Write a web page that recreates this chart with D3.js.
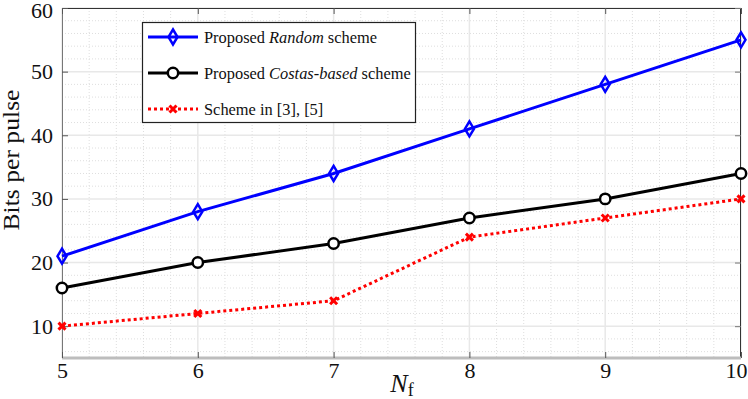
<!DOCTYPE html>
<html><head><meta charset="utf-8">
<script src="https://cdn.jsdelivr.net/npm/d3@7"></script>
<style>body{margin:0;background:#fff;} svg{display:block;} svg text{font-family:"Liberation Serif","Times New Roman",serif !important;}</style>
</head><body>
<svg id="c" width="748" height="399"></svg>
<script>
const nf = [5, 6, 7, 8, 9, 10];
const randomScheme = [21, 28, 34, 41, 48, 55];
const costasScheme = [16, 20, 23, 27, 30, 34];
const refScheme = [10, 12, 14, 24, 27, 30];
const xTicks = [5, 6, 7, 8, 9, 10];
const yTicks = [10, 20, 30, 40, 50, 60];
const seriesNames = ["Proposed ", "Proposed ", "Scheme in [3], [5]"];

const svg = d3.select("#c");
const L = 62, R = 741, T = 8, B = 358;
const x = d3.scaleLinear().domain([5, 10]).range([L, R]);
const y = d3.scaleLinear().domain([5, 60]).range([B, T]);
const SERIF = "'Liberation Serif', 'Times New Roman', serif";

const g = svg.append("g");
const xMinor = d3.range(5, 10.001, 0.2).filter(v => Math.abs(v - Math.round(v)) > 1e-6);
const yMinor = d3.range(6, 60, 2).filter(v => v % 10 !== 0);
g.selectAll(".xm").data(xMinor).join("line")
  .attr("x1", d => x(d)).attr("x2", d => x(d)).attr("y1", T).attr("y2", B)
  .attr("stroke", "#dedede").attr("stroke-width", 1).attr("stroke-dasharray", "1,2");
g.selectAll(".ym").data(yMinor).join("line")
  .attr("x1", L).attr("x2", R).attr("y1", d => y(d)).attr("y2", d => y(d))
  .attr("stroke", "#dedede").attr("stroke-width", 1).attr("stroke-dasharray", "1,2");
g.selectAll(".xM").data(xTicks).join("line")
  .attr("x1", d => x(d)).attr("x2", d => x(d)).attr("y1", T).attr("y2", B)
  .attr("stroke", "#e8e8e8").attr("stroke-width", 1.5);
g.selectAll(".yM").data(yTicks).join("line")
  .attr("x1", L).attr("x2", R).attr("y1", d => y(d)).attr("y2", d => y(d))
  .attr("stroke", "#e8e8e8").attr("stroke-width", 1.5);

svg.append("line").attr("x1", L).attr("x2", R).attr("y1", T + 0.5).attr("y2", T + 0.5).attr("stroke", "#333").attr("stroke-width", 1);
svg.append("line").attr("x1", R - 0.5).attr("x2", R - 0.5).attr("y1", T).attr("y2", B).attr("stroke", "#333").attr("stroke-width", 1);
svg.append("line").attr("x1", L + 0.5).attr("x2", L + 0.5).attr("y1", T).attr("y2", B).attr("stroke", "#777").attr("stroke-width", 1);
svg.append("line").attr("x1", L).attr("x2", R).attr("y1", B).attr("y2", B).attr("stroke", "#bdbdbd").attr("stroke-width", 3);

const xAxis = d3.axisBottom(x).tickValues(xTicks).tickSize(-6).tickPadding(4).tickFormat(d3.format("d"));
const xa = svg.append("g").attr("transform", `translate(0,${B})`).call(xAxis)
  .attr("font-family", SERIF).attr("font-size", 22);
xa.select(".domain").remove();
xa.selectAll(".tick line").attr("stroke", "#555");
xa.selectAll(".tick text").attr("fill", "#111").style("font-family", SERIF).style("font-size", "22px")
  .attr("text-anchor", d => d === 10 ? "end" : "middle").attr("x", d => d === 10 ? 6 : 0);
const xaTop = svg.append("g").attr("transform", `translate(0,${T})`).call(d3.axisTop(x).tickValues(xTicks).tickSize(-6).tickFormat(""));
xaTop.select(".domain").remove(); xaTop.selectAll(".tick line").attr("stroke", "#555");

const yAxis = d3.axisLeft(y).tickValues(yTicks).tickSize(-6).tickPadding(9).tickFormat(d3.format("d"));
const ya = svg.append("g").attr("transform", `translate(${L},0)`).call(yAxis)
  .attr("font-family", SERIF).attr("font-size", 22);
ya.select(".domain").remove();
ya.selectAll(".tick line").attr("stroke", "#555");
ya.selectAll(".tick text").attr("fill", "#111").style("font-family", SERIF).style("font-size", "22px")
  .attr("dy", d => d === 60 ? "0.45em" : "0.32em");
const yaR = svg.append("g").attr("transform", `translate(${R},0)`).call(d3.axisRight(y).tickValues(yTicks).tickSize(-6).tickFormat(""));
yaR.select(".domain").remove(); yaR.selectAll(".tick line").attr("stroke", "#777");

svg.append("text").attr("transform", "translate(19,160) rotate(-90)").attr("text-anchor", "middle")
  .attr("font-size", 23).attr("fill", "#111").attr("textLength", 141).attr("lengthAdjust", "spacingAndGlyphs")
  .text("Bits per pulse");
const xl = svg.append("text").attr("x", 402).attr("y", 392).attr("text-anchor", "middle").attr("fill", "#111");
xl.append("tspan").attr("font-style", "italic").attr("font-size", 26).text("N");
xl.append("tspan").attr("font-size", 18).attr("dy", 4).text("f");

const line = d3.line().x((d, i) => x(nf[i])).y(d => y(d));
const diamond = (cx, cy) => `M${cx},${cy-7.5}L${cx+4.5},${cy}L${cx},${cy+7.5}L${cx-4.5},${cy}Z`;
const cross = (cx, cy) => `M${cx-3.5},${cy-3.5}L${cx+3.5},${cy+3.5}M${cx-3.5},${cy+3.5}L${cx+3.5},${cy-3.5}`;

svg.append("path").datum(refScheme).attr("d", line).attr("fill", "none").attr("stroke", "#ff0000").attr("stroke-width", 3).attr("stroke-dasharray", "3,3");
svg.selectAll(".mx").data(refScheme).join("path").attr("d", (d, i) => cross(x(nf[i]), y(d)))
  .attr("stroke", "#ff0000").attr("stroke-width", 3).attr("fill", "none");

svg.append("path").datum(costasScheme).attr("d", line).attr("fill", "none").attr("stroke", "#000").attr("stroke-width", 3);
svg.selectAll(".mc").data(costasScheme).join("circle").attr("cx", (d, i) => x(nf[i])).attr("cy", d => y(d)).attr("r", 5.2)
  .attr("fill", "#fff").attr("stroke", "#000").attr("stroke-width", 2.5);

svg.append("path").datum(randomScheme).attr("d", line).attr("fill", "none").attr("stroke", "#0000ff").attr("stroke-width", 3);
svg.selectAll(".md").data(randomScheme).join("path").attr("d", (d, i) => diamond(x(nf[i]), y(d)))
  .attr("fill", "none").attr("stroke", "#0000ff").attr("stroke-width", 2.5);

const lg = svg.append("g");
lg.append("rect").attr("x", 142.5).attr("y", 22.5).attr("width", 273).attr("height", 100).attr("fill", "#fff").attr("stroke", "#222").attr("stroke-width", 1.2);
const rows = [37, 73, 109];
lg.append("line").attr("x1", 148).attr("x2", 198).attr("y1", rows[0]).attr("y2", rows[0]).attr("stroke", "#0000ff").attr("stroke-width", 3);
lg.append("path").attr("d", diamond(173, rows[0])).attr("fill", "none").attr("stroke", "#0000ff").attr("stroke-width", 2.5);
lg.append("line").attr("x1", 148).attr("x2", 198).attr("y1", rows[1]).attr("y2", rows[1]).attr("stroke", "#000").attr("stroke-width", 3);
lg.append("circle").attr("cx", 173).attr("cy", rows[1]).attr("r", 5.2).attr("fill", "#fff").attr("stroke", "#000").attr("stroke-width", 2.5);
lg.append("line").attr("x1", 148).attr("x2", 198).attr("y1", rows[2]).attr("y2", rows[2]).attr("stroke", "#ff0000").attr("stroke-width", 3).attr("stroke-dasharray", "3,3");
lg.append("path").attr("d", cross(173, rows[2])).attr("stroke", "#ff0000").attr("stroke-width", 3);

const t1 = lg.append("text").attr("x", 204).attr("y", rows[0] + 5.5).attr("font-size", 16.4).attr("fill", "#111");
t1.append("tspan").text(seriesNames[0]); t1.append("tspan").attr("font-style", "italic").text("Random"); t1.append("tspan").text(" scheme");
const t2 = lg.append("text").attr("x", 204).attr("y", rows[1] + 5.5).attr("font-size", 16.4).attr("fill", "#111");
t2.append("tspan").text(seriesNames[1]); t2.append("tspan").attr("font-style", "italic").text("Costas-based"); t2.append("tspan").text(" scheme");
lg.append("text").attr("x", 204).attr("y", rows[2] + 5.5).attr("font-size", 16.4).attr("fill", "#111").text(seriesNames[2]);
</script>
</body></html>
